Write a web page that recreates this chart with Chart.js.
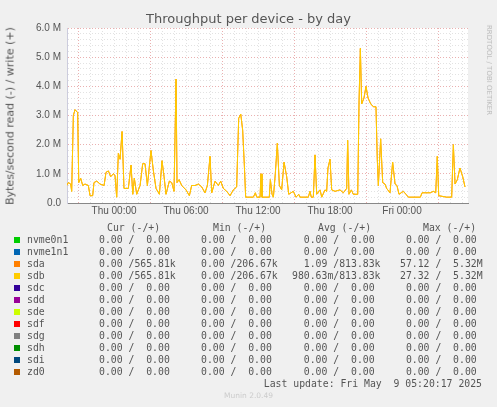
<!DOCTYPE html>
<html><head><meta charset="utf-8">
<script src="https://cdn.jsdelivr.net/npm/chart.js@4"></script>
<style>
body{margin:0;background:#f0f0f0;width:497px;height:407px;overflow:hidden;position:relative;font-family:"DejaVu Sans",sans-serif}
#c{position:absolute;left:0;top:0}
.t{position:absolute;white-space:pre;font-family:"DejaVu Sans Mono",monospace;font-size:9.8px;color:#555;line-height:12px}
.sw{position:absolute;width:6px;height:6px}
</style></head><body>
<canvas id="c" width="497" height="228"></canvas>
<div style="position:absolute;left:0;width:497px;top:11px;text-align:center;font-size:13px;color:#555">Throughput per device - by day</div>
<div style="position:absolute;left:10px;top:116px;transform:translate(-50%,-50%) rotate(-90deg);font-size:11px;color:#555;white-space:nowrap">Bytes/second read (-) / write (+)</div>
<div style="position:absolute;left:489px;top:70px;transform:translate(-50%,-50%) rotate(90deg);font-size:7px;color:#bbb;white-space:nowrap">RRDTOOL / TOBI OETIKER</div>
<div id="leg"></div>
<div style="position:absolute;left:0;width:497px;top:391px;text-align:center;font-size:7.5px;color:#ccc">Munin 2.0.49</div>
<script>
const hours=[-3.94,-3.81,-3.61,-3.53,-3.39,-3.25,-3.03,-2.94,-2.78,-2.61,-2.42,-2.14,-2.0,-1.78,-1.67,-1.44,-1.17,-0.83,-0.67,-0.47,-0.28,-0.06,0.08,0.22,0.36,0.5,0.67,0.83,1.19,1.42,1.56,1.69,1.89,2.17,2.39,2.58,2.78,3.08,3.28,3.5,3.78,4.0,4.17,4.33,4.61,4.81,5.0,5.17,5.25,5.42,5.64,6.0,6.28,6.47,6.75,7.03,7.31,7.58,7.78,8.0,8.14,8.42,8.69,8.89,9.11,9.39,9.67,9.94,10.22,10.39,10.56,10.72,10.86,10.97,11.61,11.78,11.89,12.17,12.25,12.33,12.94,13.03,13.17,13.28,13.44,13.61,13.78,13.97,14.17,14.39,14.56,14.94,15.17,15.39,15.5,16.19,16.33,16.44,16.61,16.75,16.89,17.17,17.31,17.58,17.72,17.83,18.0,18.14,18.42,18.83,19.11,19.39,19.47,19.58,19.78,19.94,20.31,20.42,20.53,20.64,20.83,21.0,21.17,21.39,21.61,21.83,21.94,22.03,22.22,22.39,22.58,22.72,23.0,23.22,23.42,23.58,23.75,24.11,24.33,24.53,25.53,25.67,26.36,26.61,26.81,26.94,27.06,27.72,28.14,28.28,28.42,28.61,28.83,29.06,29.25];
const sdbWrite=[0.6,0.7,0.65,0.4,3.0,3.2,3.1,0.7,0.85,0.6,0.65,0.6,0.25,0.25,0.7,0.75,0.65,0.6,1.05,1.1,0.9,1.0,0.95,0.2,1.7,1.5,2.45,0.5,0.5,1.3,0.3,0.85,0.3,0.6,1.35,1.35,0.6,1.8,1.1,0.5,0.3,1.45,0.9,0.3,0.75,0.7,0.4,4.25,0.7,0.8,0.6,0.45,0.25,0.6,0.6,0.65,0.55,0.35,0.6,1.6,0.35,0.75,0.6,0.75,0.5,0.4,0.25,0.45,0.55,2.9,3.05,2.5,1.3,0.2,0.2,0.35,0.2,0.2,1.0,0.2,0.2,0.8,0.3,0.2,1.0,2.05,0.6,0.45,1.4,0.9,0.3,0.4,0.2,0.3,0.2,0.2,0.4,0.2,0.2,1.65,0.3,0.45,0.2,0.45,0.4,1.2,1.5,0.45,0.4,0.45,0.35,0.5,2.15,0.3,0.45,0.3,0.3,3.5,5.3,3.4,3.6,4.0,3.6,3.4,3.3,3.3,1.5,0.6,2.2,0.7,0.65,0.5,0.35,1.4,0.65,0.6,0.3,0.4,0.3,0.2,0.2,0.35,0.35,0.4,0.35,1.6,0.25,0.2,0.2,2.0,0.65,0.8,1.2,0.9,0.55];
const sdaWrite=sdbWrite.slice();
const xTickLabels={0:"Thu 00:00",6:"Thu 06:00",12:"Thu 12:00",18:"Thu 18:00",24:"Fri 00:00"};
const yTickLabels={0:"0.0",1:"1.0 M",2:"2.0 M",3:"3.0 M",4:"4.0 M",5:"5.0 M",6:"6.0 M"};
const devices=["nvme0n1","nvme1n1","sda","sdb","sdc","sdd","sde","sdf","sdg","sdh","sdi","zd0"];
const colors=["#00CC00","#0066B3","#FF8000","#FFCC00","#330099","#990099","#CCFF00","#FF0000","#808080","#008F00","#00487D","#B35A00"];
const curCol=["0.00 /  0.00","0.00 /  0.00","0.00 /565.81k","0.00 /565.81k"];
const minCol=["0.00 /  0.00","0.00 /  0.00","0.00 /206.67k","0.00 /206.67k"];
const avgCol=["  0.00 /  0.00","  0.00 /  0.00","  1.09 /813.83k","980.63m/813.83k"];
const maxCol=[" 0.00 /  0.00"," 0.00 /  0.00","57.12 /  5.32M","27.32 /  5.32M"];

const pts=a=>hours.map((h,i)=>({x:h,y:a[i]}));
const bg={id:'bg',beforeDraw(ch){const a=ch.chartArea,c=ch.ctx;c.save();c.fillStyle='#fff';c.fillRect(a.left,a.top,a.right-a.left,a.bottom-a.top);c.restore();}};
new Chart(document.getElementById('c'),{type:'line',plugins:[bg],
data:{datasets:[
 {data:pts(sdaWrite),borderColor:colors[2],borderWidth:1,pointRadius:0,tension:0,order:2},
 {data:pts(sdbWrite),borderColor:colors[3],borderWidth:1,pointRadius:0,tension:0,order:1}]},
options:{responsive:false,animation:false,plugins:{legend:{display:false},tooltip:{enabled:false}},
 layout:{padding:{top:28,right:29,left:0,bottom:0}},
 scales:{
  x:{type:'linear',min:-3.92,max:29.5,afterFit:s=>{s.height=25},
   afterBuildTicks:s=>{const t=[];for(let h=-3;h<=29;h++)t.push({value:h});s.ticks=t;},
   ticks:{autoSkip:false,maxRotation:0,color:'#555',font:{size:10},padding:2,callback:v=>xTickLabels[v]||''},
   grid:{drawTicks:false,color:c=>((c.tick&&((c.tick.value+3)%6===0))?'#eab0b0':'#e2e2e2')},
   border:{color:'#888',dash:[1,2]}},
  y:{min:0,max:6,afterFit:s=>{s.width=67},
   afterBuildTicks:s=>{const t=[];for(let i=0;i<=30;i++)t.push({value:Math.round(i*2)/10});s.ticks=t;},
   ticks:{autoSkip:false,color:'#555',font:{size:10},padding:6,callback:v=>yTickLabels[v]??''},
   grid:{drawTicks:false,color:c=>(c.tick&&Number.isInteger(c.tick.value)?'#eab0b0':'#e2e2e2')},
   border:{color:'#ccd',dash:[1,2]}}
 }}});

let h='<div class="t" style="left:107px;top:222px">Cur (-/+)</div><div class="t" style="left:213px;top:222px">Min (-/+)</div><div class="t" style="left:318px;top:222px">Avg (-/+)</div><div class="t" style="left:423px;top:222px">Max (-/+)</div>';
devices.forEach((d,i)=>{const y=234+i*12;
 h+=`<div class="sw" style="left:14px;top:${y+3}px;background:${colors[i]}"></div>`;
 h+=`<div class="t" style="left:27px;top:${y}px">${d}</div>`;
 h+=`<div class="t" style="left:99px;top:${y}px">${curCol[i]||"0.00 /  0.00"}</div>`;
 h+=`<div class="t" style="left:201px;top:${y}px">${minCol[i]||"0.00 /  0.00"}</div>`;
 h+=`<div class="t" style="left:292px;top:${y}px">${avgCol[i]||"  0.00 /  0.00"}</div>`;
 h+=`<div class="t" style="left:400px;top:${y}px">${maxCol[i]||" 0.00 /  0.00"}</div>`;});
h+='<div class="t" style="right:15px;top:378px">Last update: Fri May  9 05:20:17 2025</div>';
document.getElementById('leg').innerHTML=h;
</script></body></html>
